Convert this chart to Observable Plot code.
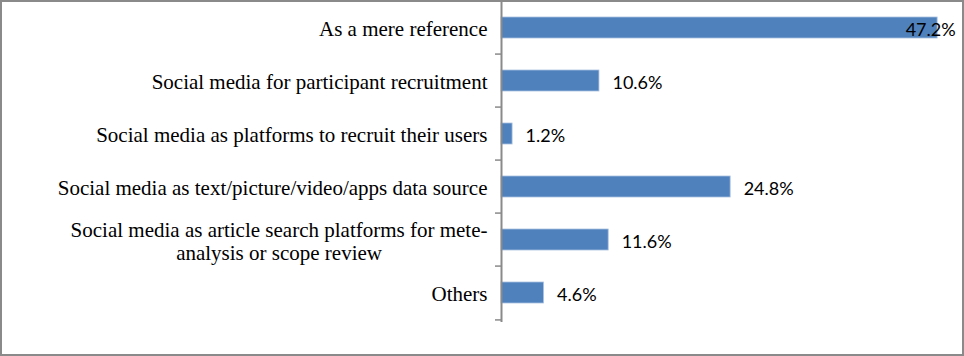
<!DOCTYPE html>
<html>
<head>
<meta charset="utf-8">
<script src="https://cdn.jsdelivr.net/npm/d3@7"></script>
<script src="https://cdn.jsdelivr.net/npm/@observablehq/plot@0.6"></script>
<style>
  html, body { margin: 0; padding: 0; background: #fff; }
  #wrap { position: relative; width: 964px; height: 356px; overflow: hidden; }
  #wrap svg { position: absolute; left: 0; top: 0; }
  #border { position: absolute; left: 0; top: 0; width: 964px; height: 356px; box-sizing: border-box; border: 2px solid #8a8a8a; pointer-events: none; }
</style>
</head>
<body>
<div id="wrap"><div id="border"></div></div>
<script>
const categories = [
  "As a mere reference",
  "Social media for participant recruitment",
  "Social media as platforms to recruit their users",
  "Social media as text/picture/video/apps data source",
  "Social media as article search platforms for mete-\nanalysis or scope review",
  "Others"
];
const values = [47.2, 10.6, 1.2, 24.8, 11.6, 4.6];
const xDomain = [0, 50];

const data = categories.map((c, i) => ({category: c, value: values[i]}));
const maxValue = d3.max(values);

const W = 964, H = 356;
const mTop = -1, mBottom = 34, mLeft = 501, mRight = 1;
const step = (H - mTop - mBottom) / categories.length;

const labelFont = "'Liberation Serif', 'Times New Roman', serif";
const labelSize = 21;
const valueFont = "Lato, 'Open Sans', sans-serif";
const valueSize = 18;
const axisGray = "#8a8a8a";

const ctx = document.createElement("canvas").getContext("2d");
ctx.font = `${labelSize}px ${labelFont}`;
const maxLineWidth = s => d3.max(s.split("\n"), l => ctx.measureText(l).width);

const labelMarks = categories.map(c => Plot.text([c], {
  x: () => 0,
  y: d => d,
  text: d => d,
  textAnchor: "middle",
  dx: -14 - maxLineWidth(c) / 2,
  dy: 1,
  lineHeight: 1.08,
  fontSize: labelSize,
  fontFamily: labelFont,
  fill: "#000"
}));

const chart = Plot.plot({
  width: W,
  height: H,
  marginTop: mTop,
  marginBottom: mBottom,
  marginLeft: mLeft,
  marginRight: mRight,
  style: {background: "transparent", overflow: "visible"},
  x: {domain: xDomain, axis: null},
  y: {domain: categories, axis: null, paddingInner: 0.6, paddingOuter: 0.3},
  marks: [
    Plot.barX(data, {x: "value", y: "category", fill: "#4f81bd", stroke: "#a9c1e0", strokeWidth: 0.8}),
    Plot.ruleX([0], {stroke: axisGray, strokeWidth: 2}),
    Plot.ruleY(categories, {y: d => d, x1: () => 0, x2: () => 0, insetLeft: -6, dy: -step / 2, stroke: axisGray, strokeWidth: 1.5}),
    Plot.ruleY(categories.slice(-1), {y: d => d, x1: () => 0, x2: () => 0, insetLeft: -6, dy: step / 2, stroke: axisGray, strokeWidth: 1.5}),
    ...labelMarks,
    Plot.text(data.filter(d => d.value < maxValue), {
      x: "value", y: "category", text: d => d.value.toFixed(1) + "%",
      textAnchor: "start", dx: 13, dy: 2, fontSize: valueSize, fontFamily: valueFont, fill: "#000"
    }),
    Plot.text(data.filter(d => d.value === maxValue), {
      x: "value", y: "category", text: d => d.value.toFixed(1) + "%",
      textAnchor: "end", dx: 18, dy: 2, fontSize: valueSize, fontFamily: valueFont, fill: "#000"
    })
  ]
});
document.getElementById("wrap").insertBefore(chart, document.getElementById("border"));
</script>
</body>
</html>
